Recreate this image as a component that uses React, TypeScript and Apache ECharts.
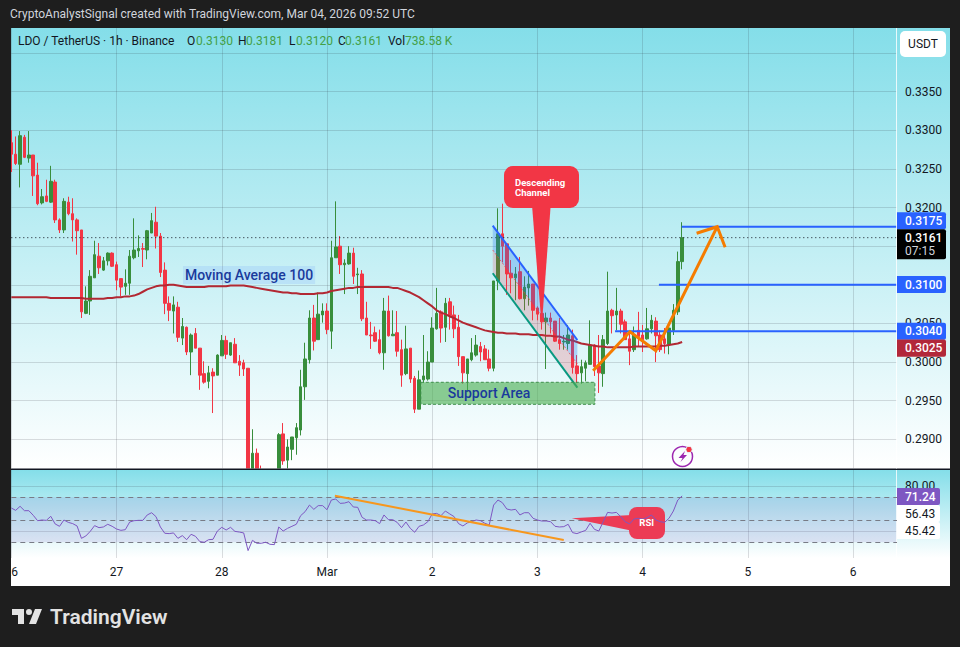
import React, { useEffect, useRef } from "react";
import * as echarts from "echarts";

// [open, close, low, high]
const candles: number[][] = [
[.3284,.3269,.3246,.3300],[.3269,.3257,.3255,.3292],[.3256,.3293,.3226,.3299],[.3291,.3265,.3264,.3294],[.3264,.3268,.3258,.3299],
[.3268,.3241,.3215,.3268],[.3242,.3205,.3203,.3258],[.3206,.3214,.3204,.3224],[.3215,.3208,.3207,.3236],[.3207,.3234,.3206,.3254],
[.3233,.3184,.3180,.3236],[.3184,.3171,.3167,.3186],[.3171,.3208,.3167,.3212],[.3207,.3192,.3190,.3214],[.3192,.3184,.3156,.3212],
[.3184,.3170,.3139,.3186],[.3171,.3065,.3057,.3171],[.3063,.3079,.3062,.3098],[.3079,.3111,.3061,.3119],[.3109,.3139,.3109,.3157],
[.3137,.3122,.3114,.3154],[.3119,.3131,.3118,.3136],[.3131,.3141,.3125,.3142],[.3141,.3124,.3123,.3142],[.3126,.3106,.3093,.3130],
[.3108,.3097,.3085,.3108],[.3098,.3102,.3087,.3120],[.3102,.3137,.3087,.3145],[.3135,.3145,.3133,.3186],[.3144,.3147,.3136,.3164],
[.3147,.3146,.3123,.3154],[.3145,.3170,.3133,.3171],[.3167,.3183,.3167,.3193],[.3181,.3163,.3147,.3201],[.3163,.3116,.3110,.3167],
[.3119,.3076,.3062,.3129],[.3076,.3067,.3053,.3085],[.3066,.3074,.3037,.3085],[.3071,.3032,.3026,.3078],[.3031,.3046,.3022,.3057],
[.3045,.3013,.3009,.3046],[.3013,.3035,.2983,.3037],[.3037,.3018,.3018,.3044],[.3018,.2983,.2964,.3018],[.2985,.2974,.2972,.3001],
[.2975,.2986,.2966,.2995],[.2987,.2982,.2934,.2992],[.2983,.3009,.2983,.3010],[.3008,.3028,.3008,.3035],[.3028,.3010,.3004,.3034],
[.3009,.3025,.3008,.3025],[.3023,.2999,.2999,.3031],[.3001,.2996,.2982,.3009],[.2999,.2991,.2982,.3003],[.2992,.2855,.2850,.2992],
[.2857,.2882,.2852,.2913],[.2882,.2858,.2850,.2888],[.2858,.2852,.2845,.2866],[.2850,.2856,.2842,.2860],[.2856,.2848,.2842,.2859],
[.2848,.2857,.2844,.2861],[.2858,.2906,.2850,.2908],[.2907,.2872,.2867,.2921],[.2873,.2890,.2862,.2900],[.2887,.2903,.2873,.2903],
[.2902,.2915,.2880,.2921],[.2912,.2968,.2905,.2990],[.2968,.3004,.2951,.3025],[.3003,.3057,.2998,.3067],[.3057,.3027,.3015,.3074],
[.3029,.3062,.3029,.3090],[.3061,.3066,.3051,.3076],[.3066,.3042,.3036,.3076],[.3040,.3135,.3017,.3157],[.3135,.3149,.3135,.3208],
[.3150,.3126,.3114,.3163],[.3126,.3128,.3088,.3133],[.3127,.3141,.3126,.3150],[.3141,.3111,.3101,.3148],[.3113,.3114,.3088,.3122],
[.3114,.3056,.3053,.3119],[.3057,.3035,.3035,.3078],[.3035,.3034,.3017,.3052],[.3038,.3027,.3026,.3046],[.3029,.3012,.3010,.3042],
[.3012,.3066,.2990,.3083],[.3066,.3034,.3033,.3086],[.3034,.3036,.3034,.3067],[.3038,.3014,.3007,.3066],[.3016,.2983,.2968,.3029],
[.2985,.3017,.2983,.3047],[.3018,.2978,.2973,.3018],[.2979,.2939,.2934,.2982],[.2939,.2977,.2939,.2989],[.2977,.2982,.2973,.3035],
[.2978,.3000,.2976,.3014],[.3000,.3044,.3000,.3058],[.3043,.3063,.3042,.3096],[.3065,.3044,.3025,.3067],[.3045,.3076,.3026,.3083],
[.3078,.3060,.3042,.3083],[.3061,.3043,.3031,.3073],[.3045,.3007,.2995,.3061],[.3007,.2986,.2972,.3007],[.2985,.3004,.2961,.3004],
[.3003,.3012,.3001,.3031],[.3009,.3022,.3007,.3035],[.3020,.3013,.3001,.3026],[.3017,.3003,.3003,.3022],[.3004,.2992,.2988,.3016],
[.2992,.3105,.2988,.3105],[.3105,.3166,.3093,.3199],[.3166,.3150,.3129,.3205],[.3153,.3114,.3087,.3153],[.3115,.3109,.3089,.3132],
[.3109,.3114,.3080,.3123],[.3117,.3082,.3081,.3136],[.3082,.3097,.3067,.3111],[.3096,.3101,.3073,.3118],[.3101,.3067,.3054,.3101],
[.3070,.3062,.3054,.3072],[.3063,.3052,.3042,.3089],[.3052,.3057,.2991,.3064],[.3057,.3052,.3037,.3064],[.3053,.3027,.3026,.3053],
[.3029,.3024,.3016,.3057],[.3026,.3027,.3016,.3035],[.3024,.3035,.3016,.3048],[.3034,.2993,.2985,.3042],[.2995,.2985,.2973,.3009],
[.2986,.2994,.2972,.3003],[.2992,.2999,.2975,.3002],[.2997,.3022,.2997,.3054],[.3022,.2994,.2982,.3023],[.2995,.2986,.2960,.3035],
[.2985,.3029,.2968,.3035],[.3024,.3066,.3022,.3117],[.3067,.3060,.3037,.3069],[.3061,.3066,.3041,.3096],[.3066,.3049,.3037,.3069],
[.3052,.3029,.3029,.3055],[.3030,.3014,.2996,.3037],[.3016,.3035,.3013,.3046],[.3041,.3033,.3020,.3065],[.3035,.3029,.3013,.3048],
[.3030,.3043,.3029,.3070],[.3043,.3054,.3037,.3061],[.3053,.3034,.3000,.3058],[.3035,.3016,.3013,.3041],[.3030,.3024,.3011,.3044],
[.3023,.3044,.3010,.3046],[.3041,.3067,.3035,.3075],[.3065,.3130,.3061,.3143],[.3130,.3161,.3120,.3181],
];

const ma100: number[] = [
.3084,.3084,.3084,.3084,.3084,.3084,.3084,.3084,.3084,.3083,.3083,.3083,.3083,
.3083,.3083,.3083,.3083,.3082,.3082,.3082,.3082,
.3082,.3083,.3083,.3084,.3084,.3085,.3085,
.3086,.3088,.3091,.3094,.3096,.3098,
.3099,.3099,.3100,.3100,.3099,.3098,.3097,
.3097,.3097,.3097,.3097,.3098,.3098,
.3098,.3098,.3098,.3099,.3099,.3099,.3099,
.3098,.3097,.3096,.3095,.3094,.3093,.3092,
.3091,.3090,.3090,.3089,.3089,.3088,
.3088,.3088,.3088,.3089,.3089,.3090,.3092,
.3093,.3094,.3095,.3096,.3096,.3097,.3097,.3097,
.3097,.3097,.3097,.3097,.3097,.3096,.3096,.3094,.3092,
.3090,.3087,.3084,.3080,.3076,.3072,.3067,.3064,
.3062,.3059,.3057,.3054,.3051,.3049,.3047,
.3045,.3043,.3041,.3040,.3039,.3038,.3038,.3037,.3037,
.3037,.3036,.3036,.3036,.3035,.3035,.3035,.3034,.3034,.3033,.3033,
.3031,.3029,.3028,.3026,.3024,.3023,.3022,
.3021,.3020,.3020,.3019,.3019,.3019,.3019,.3019,.3019,.3020,.3020,
.3020,.3020,.3020,.3020,.3021,.3021,.3022,.3023,.3024,.3026,
];

const rsi: number[] = [
60.5,58.4,62,58.1,58.1,54,49.2,49.8,49.5,53.1,
46.3,44.2,49.8,47.7,46.6,44.5,33.5,35.6,39.7,44.8,
43,43.6,46,44.2,41.8,40.6,41.2,48,49.2,49.5,
49.5,54.3,56.3,52.8,43.6,38,37.7,38.3,33.5,35.9,
32.3,37.1,35.3,30.6,30,32.3,32.6,40,43.3,40.9,
43.3,39.7,39.1,38.3,22.6,31.7,29.1,29.1,30,28.2,
27.9,43.6,40,42.4,44.2,46,53.7,57.2,63.1,59.3,
62.6,62.6,59,67.6,68.5,64.6,64.9,66.1,61.4,61.1,
52.2,49.8,49.8,49.2,46.6,54.3,50.1,50.1,47.7,43,
48,42.4,38.9,44.2,45.4,48.3,55.2,55.7,53.7,57.8,
55.2,52.8,46.6,44.5,47.2,48.3,49.8,49.2,
46.9,45.4,63.1,67.6,65.2,59.6,58.7,59.3,54.3,56.3,
56.3,51.3,49.8,48.9,48.9,48.3,44.2,43.6,43.9,46,
38.6,37.7,39.2,40.6,46.9,41.5,40,48.3,56.6,56,
56.6,52.8,48.3,46.3,50.7,51.3,50.7,51.9,54.3,49.8,
48.3,47.7,51.3,57.8,67.6,71.24,
];

const dayTicks = [0, 24, 48, 72, 96, 120, 144, 168, 192];
const dayLabels = ["26", "27", "28", "Mar", "2", "3", "4", "5", "6"];
const priceGrid = [0.29, 0.295, 0.3, 0.305, 0.31, 0.315, 0.32, 0.325, 0.33, 0.335, 0.34];
const priceLabels = [0.29, 0.295, 0.3, 0.305, 0.32, 0.325, 0.33, 0.335];
const rsiGrid = [40, 80];
const rsiLabels = [80];
const rsiLevels = [70, 50, 30];

const ohlcLegend = [
  { key: "O", value: "0.3130", kx: 187, vx: 196 },
  { key: "H", value: "0.3181", kx: 238, vx: 246 },
  { key: "L", value: "0.3120", kx: 289, vx: 296 },
  { key: "C", value: "0.3161", kx: 338, vx: 345 },
  { key: "Vol", value: "738.58 K", kx: 388, vx: 405 },
];

const lastPrice = 0.3161;
const targets = [
  { price: 0.3175, from: 152.9 },
  { price: 0.31, from: 147.7 },
  { price: 0.304, from: 137.7 },
];
const channelUpper = [[109.8, 0.31765], [129.1, 0.30285]];
const channelMiddle = [[109.8, 0.3145], [129.1, 0.29975]];
const channelLower = [[109.8, 0.31149], [129.1, 0.29668]];
const supportArea = [[93.4, 0.29738], [133.1, 0.29738], [133.1, 0.29453], [93.4, 0.29453]];
const projection = [[132.7, 0.29888], [141.1, 0.30393], [147.0, 0.30147], [161.0, 0.31752]];
const projectionHead = [[156.3, 0.31667], [161.0, 0.31752], [162.8, 0.31486]];
const rsiTrend = [[73.8, 71.4], [126, 32]];

const FONT = 'Roboto, "Noto Sans", sans-serif';
const LOGO =
  "M14 6H2v6h6v9h6V6Zm12 15h-7l6-15h7l-6 15Zm-7-9a3 3 0 1 0 0-6 3 3 0 0 0 0 6Z";

const shape = (pts: number[][], style: any, kind = "polyline", grid = 0, z = 4) => ({
  type: "custom",
  xAxisIndex: grid,
  yAxisIndex: grid,
  z,
  silent: true,
  clip: false,
  encode: { x: 0, y: 1 },
  data: pts,
  renderItem: (p: any, api: any) =>
    p.dataIndex === 0
      ? { type: kind, shape: { points: pts.map((q) => api.coord(q)) }, style }
      : null,
});

const label = (text: string, x: number, y: number, fill: string, font: string, z = 41, align = "left") => ({
  type: "text",
  z,
  x,
  y,
  style: { text, fill, font, textAlign: align, textBaseline: "middle", textVerticalAlign: "middle" },
});

const tag = (y: number, h: number, bg: string, text: string, color = "#fff", w = 49, weight = 500) => ({
  type: "group",
  children: [
    { type: "rect", z: 60, shape: { x: 897, y, width: w, height: h, r: [0, 2, 2, 0] }, style: { fill: bg } },
    label(text, 905, y + h / 2, color, `${weight} 12px ${FONT}`, 61),
  ],
});

export default function App() {
  const ref = useRef<HTMLDivElement>(null);
  useEffect(() => {
    echarts.graphic.registerShape("logo", echarts.graphic.extendPath(LOGO as any, {}) as any);
    const chart = echarts.init(ref.current!, undefined, { renderer: "svg" });
    const grad = () =>
      new echarts.graphic.LinearGradient(0, 0, 0, 1, [
        { offset: 0, color: "#84dee9" },
        { offset: 1, color: "#ffffff" },
      ]);
    const option: any = {
      animation: false,
      backgroundColor: "#1e1e1e",
      textStyle: { fontFamily: FONT },
      grid: [
        { left: 11.3, top: 28, width: 885.7, height: 440.5 },
        { left: 11.3, top: 470, width: 885.7, height: 88 },
      ],
      xAxis: [0, 1].map((g) => ({
        type: "value",
        gridIndex: g,
        z: g === 1 ? 6 : 0,
        min: 0,
        max: 202,
        axisLine: { show: false },
        axisTick: { show: false, customValues: dayTicks },
        splitLine: { show: true, lineStyle: { color: "rgba(42,46,57,0.16)", width: 1 } },
        axisLabel: {
          show: g === 1,
          customValues: dayTicks,
          margin: 8,
          fontSize: 12,
          color: "#131722",
          fontFamily: FONT,
          showMinLabel: true,
          formatter: (v: number) => dayLabels[dayTicks.indexOf(v)] ?? "",
        },
      })),
      yAxis: [
        {
          type: "value",
          gridIndex: 0,
          position: "right",
          min: 0.28622,
          max: 0.34324,
          scale: true,
          axisLine: { show: false },
          axisTick: { show: false, customValues: priceGrid },
          splitLine: { show: true, lineStyle: { color: "rgba(42,46,57,0.16)", width: 1 } },
          axisLabel: {
            customValues: priceLabels,
            margin: 8,
            fontSize: 12,
            color: "#131722",
            fontFamily: FONT,
            formatter: (v: number) => v.toFixed(4),
          },
        },
        {
          type: "value",
          gridIndex: 1,
          z: 6,
          position: "right",
          min: 16,
          max: 94.3,
          axisLine: { show: false },
          axisTick: { show: false, customValues: rsiGrid },
          splitLine: { show: true, lineStyle: { color: "rgba(42,46,57,0.16)", width: 1 } },
          axisLabel: {
            customValues: rsiLabels,
            margin: 8,
            fontSize: 12,
            color: "#131722",
            fontFamily: FONT,
            formatter: (v: number) => v.toFixed(2),
          },
        },
      ],
      series: [
        {
          type: "candlestick",
          xAxisIndex: 0,
          yAxisIndex: 0,
          z: 2,
          barWidth: 3,
          clip: true,
          data: candles.map((c, i) => [i, ...c]),
          itemStyle: {
            color: "#388e3c",
            color0: "#f23645",
            borderColor: "#388e3c",
            borderColor0: "#f23645",
            borderWidth: 1,
          },
        },
        {
          type: "line",
          xAxisIndex: 0,
          yAxisIndex: 0,
          z: 3,
          symbol: "none",
          silent: true,
          data: ma100.map((v, i) => [i, v]),
          lineStyle: { color: "#b22833", width: 2 },
        },
        shape([[0, lastPrice], [202, lastPrice]], { stroke: "#131722", lineWidth: 1, lineDash: [1, 3], fill: "none" }),
        shape([...channelUpper, ...channelMiddle.slice().reverse()], { fill: "rgba(33,120,243,0.28)" }, "polygon"),
        shape([...channelMiddle, ...channelLower.slice().reverse()], { fill: "rgba(242,54,69,0.2)" }, "polygon"),
        shape(channelMiddle, { stroke: "#f23645", lineWidth: 1, lineDash: [2, 2], fill: "none", opacity: 0.7 }),
        shape(channelUpper, { stroke: "#2962ff", lineWidth: 2, fill: "none" }),
        shape(channelLower, { stroke: "#089981", lineWidth: 2, fill: "none" }),
        shape(supportArea, { fill: "rgba(76,175,80,0.62)", stroke: "#3f8f4c", lineWidth: 1, lineDash: [3, 2] }, "polygon"),
        ...targets.map((t) =>
          shape([[t.from, t.price], [202, t.price]], { stroke: "#2962ff", lineWidth: 2, fill: "none" })
        ),
        shape(projection, { stroke: "#f57c00", lineWidth: 3, fill: "none", lineJoin: "miter" }),
        shape(projectionHead, { stroke: "#f57c00", lineWidth: 3, fill: "none" }),
        {
          type: "line",
          xAxisIndex: 1,
          yAxisIndex: 1,
          z: 12,
          symbol: "none",
          silent: true,
          data: rsi.map((v, i) => [i, v]),
          lineStyle: { color: "#7e57c2", width: 1 },
          markArea: {
            z: 6,
            silent: true,
            itemStyle: { color: "rgba(126,87,194,0.14)" },
            data: [[{ yAxis: 70 }, { yAxis: 30 }]],
          },
          markLine: {
            z: 7,
            silent: true,
            symbol: "none",
            label: { show: false },
            lineStyle: { color: "#787b86", type: [5, 4], width: 1 },
            data: rsiLevels.map((v) => ({ yAxis: v })),
          },
        },
        shape(rsiTrend, { stroke: "#f7971d", lineWidth: 2, fill: "none" }, "polyline", 1, 13),
      ],
      graphic: [
        { type: "rect", z: -20, shape: { x: 11, y: 28, width: 939, height: 558 }, style: { fill: "#ffffff" } },
        { type: "rect", z: -19, shape: { x: 11, y: 28, width: 939, height: 441 }, style: { fill: grad() } },
        // The lower pane hides the parts of the candles that fall below the price pane.
        { type: "rect", z: 5, shape: { x: 11, y: 468.5, width: 939, height: 90 }, style: { fill: "#ffffff" } },
        { type: "rect", z: 5, shape: { x: 11, y: 470, width: 939, height: 88 }, style: { fill: grad() } },
        { type: "rect", z: 6, shape: { x: 11, y: 468.5, width: 939, height: 1.5 }, style: { fill: "#131722" } },
        { type: "rect", z: 7, shape: { x: 896, y: 28, width: 1, height: 440.5 }, style: { fill: "rgba(255,255,255,0.8)" } },
        { type: "rect", z: 7, shape: { x: 896, y: 470, width: 1, height: 88 }, style: { fill: "rgba(255,255,255,0.8)" } },
        { type: "rect", z: 40, shape: { x: 0, y: 28, width: 11, height: 558 }, style: { fill: "#1e1e1e" } },
        label(
          "CryptoAnalystSignal created with TradingView.com, Mar 04, 2026 09:52 UTC",
          10,
          14,
          "#d1d4dc",
          `12px ${FONT}`
        ),
        label("LDO / TetherUS · 1h · Binance", 18, 41, "#131722", `12px ${FONT}`),
        ...ohlcLegend.flatMap((o) => [
          label(o.key, o.kx, 41, "#131722", `12px ${FONT}`),
          label(o.value, o.vx, 41, "#43a047", `12px ${FONT}`),
        ]),
        {
          type: "rect",
          z: 41,
          shape: { x: 900, y: 31, width: 46, height: 26, r: 5 },
          style: { fill: "#ffffff" },
        },
        label("USDT", 923, 44, "#131722", `12px ${FONT}`, 42, "center"),
        {
          type: "text",
          z: 30,
          x: 183,
          y: 275,
          style: {
            text: "Moving Average 100",
            fill: "#1a3a9c",
            font: `500 14px ${FONT}`,
            textBaseline: "middle",
            textVerticalAlign: "middle",
            backgroundColor: "rgba(41,98,255,0.1)",
            padding: [2, 2, 2, 2],
          },
        },
        label("Support Area", 489, 393, "#1a3a9c", `500 14px ${FONT}`, 30, "center"),
        // "Descending Channel" callout
        {
          type: "polygon",
          z: 30,
          shape: { points: [[532, 205], [550.7, 205], [541.7, 327]] },
          style: { fill: "#f23645" },
        },
        {
          type: "rect",
          z: 30,
          shape: { x: 504, y: 166, width: 75, height: 42, r: 9 },
          style: { fill: "#f23645" },
        },
        {
          type: "text",
          z: 31,
          x: 515,
          y: 187,
          style: {
            text: "Descending\nChannel",
            fill: "#ffffff",
            font: `700 9.5px ${FONT}`,
            lineHeight: 10,
            textBaseline: "middle",
            textVerticalAlign: "middle",
          },
        },
        // RSI callout
        {
          type: "polygon",
          z: 8,
          shape: { points: [[571.7, 518.3], [632, 515], [632, 530.7]] },
          style: { fill: "#ec3b55" },
        },
        {
          type: "rect",
          z: 8,
          shape: { x: 629, y: 507, width: 36, height: 32, r: 8 },
          style: { fill: "#ec3b55" },
        },
        label("RSI", 646.7, 522.7, "#ffffff", `700 9.5px ${FONT}`, 13, "center"),
        // live-indicator icon
        {
          type: "circle",
          z: 30,
          shape: { cx: 682.5, cy: 456.5, r: 10 },
          style: { fill: "none", stroke: "#9c27b0", lineWidth: 1.5 },
        },
        {
          type: "polygon",
          z: 31,
          shape: { points: [[685, 451], [678.5, 458], [682.5, 458], [680.5, 462], [687, 455], [683.5, 455]] },
          style: { fill: "#9c27b0" },
        },
        { type: "circle", z: 31, shape: { cx: 689, cy: 449.5, r: 3.2 }, style: { fill: "#f23645", stroke: "#e8f8fb", lineWidth: 1 } },
        // price scale tags
        tag(212.3, 17, "#2962ff", "0.3175"),
        tag(276, 17, "#2962ff", "0.3100"),
        tag(322.7, 17, "#2962ff", "0.3040"),
        tag(339.5, 17.2, "#b2283a", "0.3025"),
        {
          type: "rect",
          z: 60,
          shape: { x: 897, y: 229.3, width: 49, height: 30, r: [0, 2, 2, 0] },
          style: { fill: "#000000" },
        },
        label("0.3161", 905, 237.5, "#ffffff", `500 12px ${FONT}`, 61),
        label("07:15", 905, 251, "#d1d4dc", `12px ${FONT}`, 61),
        tag(488, 17, "#7e57c2", "71.24", "#ffffff", 43),
        tag(505, 17, "#ffffff", "56.43", "#131722", 43, 400),
        tag(522, 17, "#ffffff", "45.42", "#131722", 43, 400),
        // footer brand
        {
          type: "logo",
          z: 41,
          x: 10,
          y: 603,
          scaleX: 1,
          scaleY: 1,
          style: { fill: "#e3e3e3" },
        },
        label("TradingView", 50, 617, "#e3e3e3", `600 21px ${FONT}`),
      ],
    };
    chart.setOption(option);
    return () => chart.dispose();
  }, []);
  return (
    <div
      ref={ref}
      style={{ position: "fixed", left: 0, top: 0, width: 960, height: 647 }}
    />
  );
}
